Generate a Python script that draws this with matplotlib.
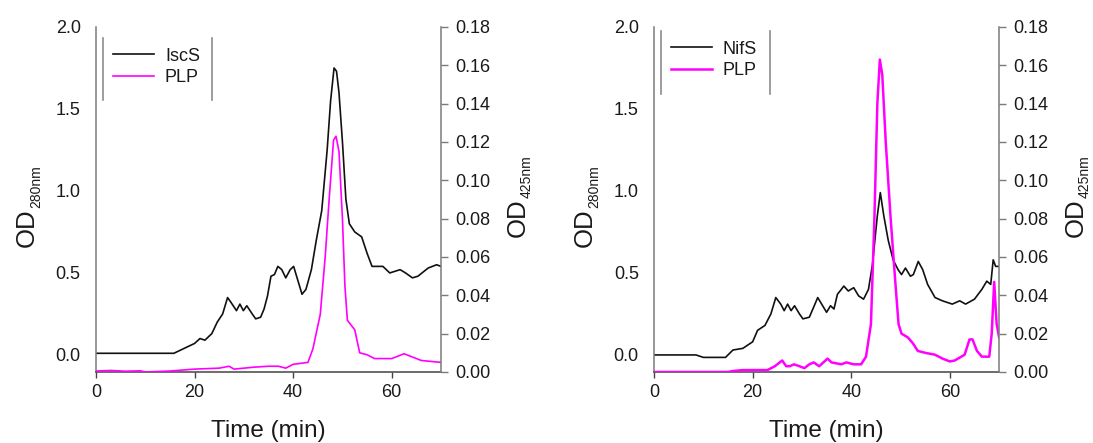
import matplotlib
matplotlib.use("Agg")
import matplotlib.pyplot as plt
import matplotlib.ticker as mticker

plt.rcParams['font.family'] = ['Liberation Sans', 'DejaVu Sans']

# IscS run: elution time (min), OD280 and OD425 (PLP)
iscs_t = [0, 5, 10, 15.8, 17.2, 18.6, 20, 21.1, 22.1, 23.5, 24.6, 25.7, 26.7, 27.4,
          28.5, 29.2, 29.9, 30.6, 31.7, 32.4, 33.4, 34.1, 34.8, 35.5, 36.2, 36.9,
          37.7, 38.5, 39.4, 40.1, 40.8, 41.8, 42.6, 43.7, 44.7, 45.8, 46.9, 47.6,
          48.3, 48.8, 49.3, 50.0, 50.7, 51.4, 52.5, 53.9, 55.0, 56.0, 58.2, 59.6,
          61.7, 62.8, 64.2, 65.3, 67.4, 69.1, 70]
iscs_od280 = [0.01, 0.01, 0.01, 0.01, 0.03, 0.05, 0.07, 0.10, 0.09, 0.13, 0.20, 0.25,
              0.35, 0.32, 0.27, 0.31, 0.27, 0.30, 0.25, 0.22, 0.23, 0.28, 0.36, 0.48,
              0.49, 0.54, 0.52, 0.47, 0.52, 0.54, 0.47, 0.37, 0.40, 0.52, 0.70, 0.88,
              1.25, 1.55, 1.75, 1.73, 1.60, 1.30, 0.95, 0.80, 0.75, 0.72, 0.62, 0.54,
              0.54, 0.50, 0.52, 0.50, 0.47, 0.48, 0.53, 0.55, 0.54]

iscs_plp_t = [0, 3, 6, 9, 10, 15, 20, 25, 27, 28, 32, 35, 37, 38.5, 40, 43, 44, 45.5,
              46.5, 47.3, 48.2, 48.7, 49.3, 50, 50.5, 51, 52.5, 53.5, 55, 56.5, 60,
              62.5, 64, 66, 70]
iscs_plp = [0.0005, 0.0008, 0.0004, 0.0006, 0.0, 0.0005, 0.0015, 0.002, 0.003, 0.0015,
            0.0025, 0.003, 0.003, 0.002, 0.004, 0.005, 0.012, 0.03, 0.06, 0.09, 0.121,
            0.123, 0.115, 0.08, 0.045, 0.027, 0.022, 0.01, 0.009, 0.007, 0.007,
            0.0095, 0.008, 0.006, 0.005]

# NifS run
nifs_t = [0, 8.5, 10, 14.5, 16, 18, 20, 21, 22.5, 23.7, 24.7, 25.7, 26.4, 27.1, 27.8,
          28.5, 29.5, 30.2, 31.5, 32.5, 33.2, 34.2, 35, 35.8, 36.5, 37.2, 38, 38.5,
          39.4, 40.5, 41.5, 42.5, 43.5, 44.3, 45.3, 45.9, 46.6, 47.5, 48.5, 49.5,
          50.2, 51, 52, 52.6, 53.6, 54.5, 55.5, 57, 58.5, 60.5, 62, 63.2, 65, 66.5,
          67.5, 68.3, 68.8, 69.3, 70]
nifs_od280 = [0.0, 0.0, -0.015, -0.015, 0.03, 0.04, 0.08, 0.15, 0.18, 0.25, 0.35, 0.31,
              0.27, 0.31, 0.27, 0.30, 0.25, 0.22, 0.23, 0.30, 0.35, 0.30, 0.26, 0.30,
              0.28, 0.37, 0.40, 0.42, 0.39, 0.41, 0.36, 0.34, 0.40, 0.55, 0.85, 0.99,
              0.85, 0.70, 0.58, 0.52, 0.49, 0.53, 0.48, 0.49, 0.57, 0.52, 0.43, 0.35,
              0.33, 0.31, 0.33, 0.31, 0.34, 0.40, 0.45, 0.43, 0.58, 0.54, 0.54]

nifs_plp_t = [0, 15, 16, 18, 22, 23, 24.5, 26, 26.8, 27.5, 28.4, 29.5, 30.5, 31.5,
              32.4, 33.5, 35.2, 36, 38, 39, 40.5, 42, 43, 44, 44.7, 45.3, 45.8, 46.3,
              47, 48, 49, 49.6, 50.2, 51.5, 52.5, 53.5, 55, 57, 58.5, 60, 61, 62, 63,
              64, 64.6, 65.5, 66.5, 68, 68.5, 69, 69.5, 70]
nifs_plp = [0.0, 0.0, 0.0005, 0.001, 0.001, 0.001, 0.003, 0.006, 0.003, 0.003, 0.004,
            0.003, 0.002, 0.004, 0.005, 0.003, 0.007, 0.005, 0.004, 0.005, 0.004, 0.004,
            0.008, 0.025, 0.08, 0.14, 0.163, 0.155, 0.12, 0.08, 0.045, 0.025, 0.02,
            0.018, 0.015, 0.011, 0.01, 0.009, 0.007, 0.0055, 0.006, 0.0075, 0.009,
            0.017, 0.017, 0.011, 0.008, 0.008, 0.02, 0.047, 0.025, 0.018]

x_ticks = [0, 20, 40, 60]
od280_ticks = [0.0, 0.5, 1.0, 1.5, 2.0]
od425_ticks = [0.00, 0.02, 0.04, 0.06, 0.08, 0.10, 0.12, 0.14, 0.16, 0.18]

fig = plt.figure(figsize=(10.93, 4.43), dpi=100)

SPINE = '#7a7a7a'
TXT = '#1a1a1a'


def draw_panel(left, t, od280, plp_t, plp, name, plp_lw, leg_top, bar_span):
    ax = fig.add_axes([left, 0.1603, 0.3157, 0.7788])
    ax2 = ax.twinx()

    l1, = ax.plot(t, od280, color='#111111', lw=1.2)
    l2, = ax2.plot(plp_t, plp, color='#ff00ff', lw=plp_lw)

    ax.set_xlim(0, 70)
    ax.set_ylim(-0.104, 2.0)
    ax2.set_ylim(0, 0.18)

    ax.set_xticks(x_ticks)
    ax.set_yticks(od280_ticks)
    ax2.set_yticks(od425_ticks)
    ax.yaxis.set_major_formatter(mticker.FormatStrFormatter('%.1f'))
    ax2.yaxis.set_major_formatter(mticker.FormatStrFormatter('%.2f'))

    for s in ['top', 'right']:
        ax.spines[s].set_visible(False)
    for s in ['top', 'left', 'bottom']:
        ax2.spines[s].set_visible(False)
    ax.spines['left'].set_color(SPINE)
    ax.spines['bottom'].set_color('#444444')
    ax2.spines['right'].set_color(SPINE)
    for sp in [ax.spines['left'], ax.spines['bottom'], ax2.spines['right']]:
        sp.set_linewidth(1.1)

    ax.tick_params(axis='y', length=0, pad=11, labelsize=13, labelcolor=TXT)
    ax.tick_params(axis='x', length=4, width=1, color='#444444', pad=5,
                   labelsize=13, labelcolor=TXT)
    ax2.tick_params(axis='y', length=5, width=1, color=SPINE, pad=5,
                    labelsize=13, labelcolor=TXT)

    ax.set_xlabel('Time (min)', fontsize=17.5, color=TXT, labelpad=13)

    # OD labels with a small subscript
    ax.text(-0.2, 0.362, 'OD', rotation=90, fontsize=18.5, color=TXT,
            ha='center', va='bottom', transform=ax.transAxes)
    ax.text(-0.172, 0.475, '280nm', rotation=90, fontsize=10, color=TXT,
            ha='center', va='bottom', transform=ax.transAxes)
    ax.text(1.222, 0.39, 'OD', rotation=90, fontsize=18.5, color=TXT,
            ha='center', va='bottom', transform=ax.transAxes)
    ax.text(1.248, 0.503, '425nm', rotation=90, fontsize=10, color=TXT,
            ha='center', va='bottom', transform=ax.transAxes)

    leg = ax.legend([l1, l2], [name, 'PLP'], loc='upper left',
                    bbox_to_anchor=(0.048, leg_top), frameon=False, fontsize=13,
                    handlelength=2.3, handletextpad=0.6, labelspacing=0.25,
                    borderpad=0, borderaxespad=0)
    for txt in leg.get_texts():
        txt.set_color(TXT)
    # legend box drawn with side bars only
    for xb in [0.02, 0.336]:
        ax.plot([xb, xb], bar_span, color='#8c8c8c', lw=1.2,
                transform=ax.transAxes, clip_on=False)
    return ax, ax2


draw_panel(0.0878, iscs_t, iscs_od280, iscs_plp_t, iscs_plp, 'IscS', 1.2,
           0.94, [0.788, 0.968])
draw_panel(0.5984, nifs_t, nifs_od280, nifs_plp_t, nifs_plp, 'NifS', 1.8,
           0.96, [0.806, 0.988])

fig.savefig('out.png', dpi=100)
